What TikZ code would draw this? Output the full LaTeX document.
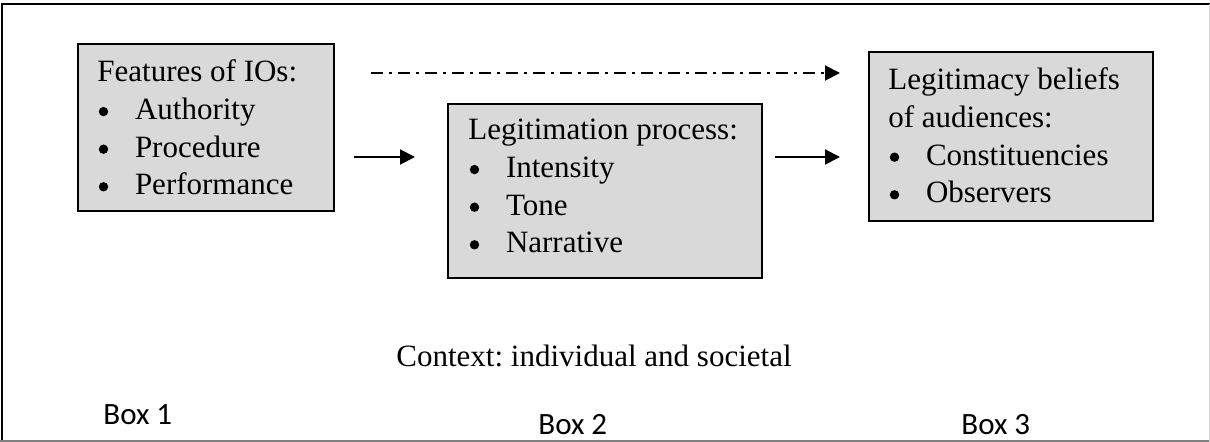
\documentclass[tikz,border=0pt]{standalone}
\usepackage{fontspec}
\setmainfont{Liberation Serif}
\newfontfamily\boxlabelfont{Carlito}
\usetikzlibrary{arrows.meta}
\definecolor{boxgray}{HTML}{D9D9D9}
\definecolor{framegray}{HTML}{808080}
\definecolor{framelight}{HTML}{D0D0D0}
\frenchspacing
\newcommand\bodyfont{\fontsize{15.5}{18.8}\selectfont}
\newcommand\itm[1]{\makebox[18.8pt][l]{\hspace{0.7pt}\tikz[baseline=0pt]\fill (2.35pt,4pt) circle[radius=2.35pt];}#1}
\begin{document}
\begin{tikzpicture}[x=0.5pt,y=-0.5pt,
  boxstyle/.style={draw=black, line width=1pt, fill=boxgray, anchor=north west, inner sep=0pt},
  txt/.style={anchor=base west, inner sep=0pt, font=\bodyfont},
  lbl/.style={anchor=base west, inner sep=0pt, font=\boxlabelfont\fontsize{15.5}{18}\selectfont},
  arr/.style={line width=1pt, -{Triangle[length=7.5pt,width=7.5pt]}},
  dasharr/.style={arr, dash pattern=on 6pt off 3pt on 1.5pt off 3pt}]
\useasboundingbox (0,0) rectangle (1210,442);
% frame
\draw[line width=0.8pt] (2.2,442) -- (2.2,3.8) -- (1210,3.8);
\draw[line width=0.8pt, framegray] (0,441.2) -- (1210,441.2);
\draw[line width=0.6pt, framelight] (1209.3,3.8) -- (1209.3,442);
% boxes
\node[boxstyle, minimum width=128pt, minimum height=83.5pt] (b1) at (77,43) {};
\node[boxstyle, minimum width=157pt, minimum height=87pt] (b2) at (447,103) {};
\node[boxstyle, minimum width=142pt, minimum height=84.5pt] (b3) at (868,51) {};
% texts
\node[txt] (t1) at (97,82) {\begin{tabular}[t]{@{}l@{}}Features of IOs:\\ \itm{Authority}\\ \itm{Procedure}\\ \itm{Performance}\end{tabular}};
\node[txt] (t2) at (468,140) {\begin{tabular}[t]{@{}l@{}}Legitimation process:\\ \itm{Intensity}\\ \itm{Tone}\\ \itm{Narrative}\end{tabular}};
\node[txt] (t3) at (888,90) {\begin{tabular}[t]{@{}l@{}}Legitimacy beliefs\\ of audiences:\\ \itm{Constituencies}\\ \itm{Observers}\end{tabular}};
\node[txt] (ctx) at (396,367) {Context: individual and societal};
\node[lbl] (l1) at (103,425) {Box 1};
\node[lbl] (l2) at (538,435) {Box 2};
\node[lbl] (l3) at (961,435) {Box 3};
% connectors
\draw[dasharr, shorten <=18pt, shorten >=14pt] (b1.east |- 0,73) -- (b3.west |- 0,73);
\draw[arr, shorten <=9.5pt, shorten >=16pt] (b1.east |- 0,157) -- (b2.west |- 0,157);
\draw[arr, shorten <=6pt, shorten >=14pt] (b2.east |- 0,157) -- (b3.west |- 0,157);
\end{tikzpicture}
\end{document}
